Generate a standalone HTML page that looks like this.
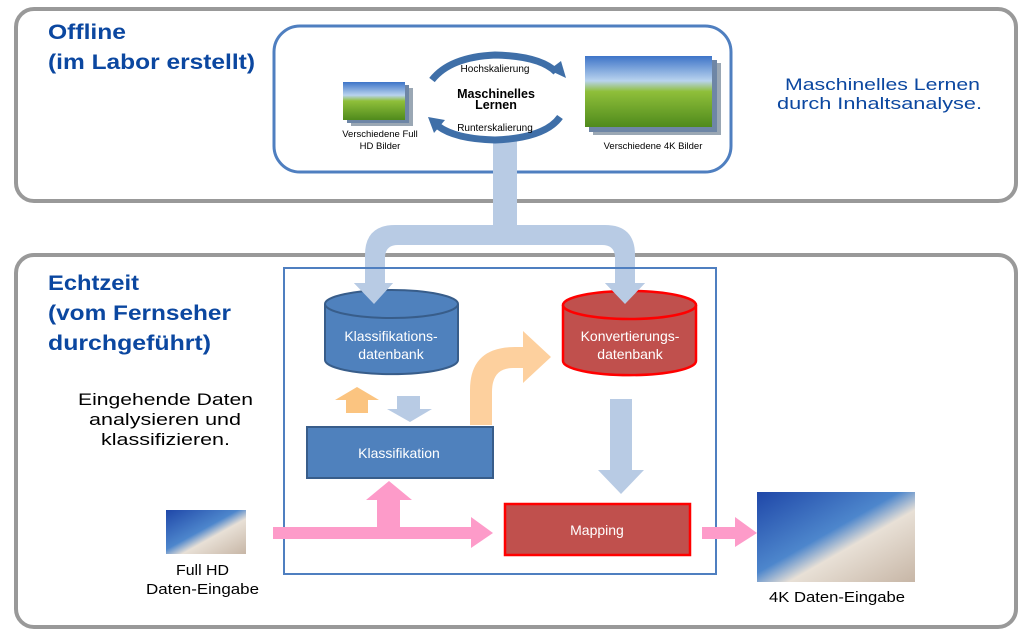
<!DOCTYPE html>
<html><head><meta charset="utf-8"><style>
html,body{margin:0;padding:0;background:#fff;width:1030px;height:635px;overflow:hidden}
svg{display:block}
text{font-family:"Liberation Sans","DejaVu Sans",sans-serif}
</style></head><body>
<svg width="1030" height="635" viewBox="0 0 1030 635" xmlns="http://www.w3.org/2000/svg">
<defs>
<linearGradient id="sky" x1="0" y1="0" x2="0" y2="1">
<stop offset="0" stop-color="#3d74c8"/><stop offset="0.35" stop-color="#b9d3ee"/><stop offset="0.5" stop-color="#8fbf3a"/><stop offset="1" stop-color="#4f8a1c"/></linearGradient>
<linearGradient id="beach" x1="0" y1="0" x2="1" y2="1">
<stop offset="0" stop-color="#1f47a8"/><stop offset="0.45" stop-color="#4d86cc"/><stop offset="0.6" stop-color="#e8e0d6"/><stop offset="1" stop-color="#c7b6a6"/></linearGradient>
</defs>
<rect x="16" y="9" width="1000" height="192" rx="18" fill="#fff" stroke="#999" stroke-width="4"/>
<rect x="16" y="255" width="1000" height="372" rx="18" fill="#fff" stroke="#999" stroke-width="4"/>
<rect x="274" y="26" width="457" height="146" rx="26" fill="#fff" stroke="#4f7fc0" stroke-width="3"/>
<path d="M493 140 H517 V225 H605 Q635 225 635 255 V283 H645 L625 304 L605 283 H615 V258 Q615 245 602 245 H398 Q385 245 385 258 V283 H393 L374 304 L354 283 H365 V255 Q365 225 395 225 H493 Z" fill="#b8cbe4"/>
<rect x="284" y="268" width="432" height="306" fill="none" stroke="#4f7fc0" stroke-width="2"/>
<path d="M325 304 V360 A66 14 0 0 0 458 360 V304" fill="#4f81bd" stroke="#385d8a" stroke-width="2"/>
<ellipse cx="391.5" cy="304" rx="66.5" ry="14" fill="#4f81bd" stroke="#385d8a" stroke-width="2"/>
<path d="M354 283 L374 304 L393 283 H385 V270 H365 V283 Z" fill="#b8cbe4"/>
<text x="391" y="341" font-size="14" fill="#fff" text-anchor="middle">Klassifikations-</text>
<text x="391" y="359" font-size="14" fill="#fff" text-anchor="middle">datenbank</text>
<path d="M563 305 V361 A66 14 0 0 0 696 361 V305" fill="#c0504d" stroke="#f00" stroke-width="2.5"/>
<ellipse cx="629.5" cy="305" rx="66.5" ry="14" fill="#c0504d" stroke="#f00" stroke-width="2.5"/>
<path d="M605 283 L625 304 L645 283 H635 V270 H615 V283 Z" fill="#b8cbe4"/>
<text x="630" y="341" font-size="14" fill="#fff" text-anchor="middle">Konvertierungs-</text>
<text x="630" y="359" font-size="14" fill="#fff" text-anchor="middle">datenbank</text>
<path d="M335 400 L357 387 L379 400 H368 V413 H346 V400 Z" fill="#fbc480"/>
<path d="M397 396 H420 V409 H432 L410 422 L387 409 H397 Z" fill="#b8cbe4"/>
<path d="M470 425 V390 Q470 347 515 347 H523 V331 L551 357 L523 383 V368 H513 Q492 368 492 392 V425 Z" fill="#fdd09e"/>
<rect x="307" y="427" width="186" height="51" fill="#4f81bd" stroke="#385d8a" stroke-width="2"/>
<text x="399" y="458" font-size="14" fill="#fff" text-anchor="middle">Klassifikation</text>
<path d="M610 399 H632 V470 H644 L621 494 L598 470 H610 Z" fill="#b8cbe4"/>
<rect x="505" y="504" width="185" height="51" fill="#c0504d" stroke="#f00" stroke-width="2.5"/>
<text x="597" y="535" font-size="14" fill="#fff" text-anchor="middle">Mapping</text>
<path d="M273 527 H377 V500 H366 L389 481 L412 500 H400 V527 H471 V517 L493 533 L471 548 V539 H273 Z" fill="#fd9bc9"/>
<path d="M702 527 H735 V517 L757 533 L735 547 V539 H702 Z" fill="#fd9bc9"/>
<rect x="351" y="88" width="62" height="38" fill="#9aa7b4"/>
<rect x="347" y="85" width="62" height="38" fill="#6e86a6"/>
<rect x="343" y="82" width="62" height="38" fill="url(#sky)"/>
<rect x="593" y="63" width="128" height="72" fill="#9aa7b4"/>
<rect x="589" y="60" width="128" height="72" fill="#6e86a6"/>
<rect x="585" y="56" width="127" height="71" fill="url(#sky)"/>
<text x="380" y="137" font-size="9.5" fill="#000" text-anchor="middle">Verschiedene Full</text>
<text x="380" y="149" font-size="9.5" fill="#000" text-anchor="middle">HD Bilder</text>
<text x="653" y="149" font-size="9.5" fill="#000" text-anchor="middle">Verschiedene 4K Bilder</text>
<path d="M432 80 Q450 57 495 55 Q540 56 556 72" fill="none" stroke="#3f6fa8" stroke-width="7"/>
<path d="M549 70 L566 78 L561 61 Z" fill="#3f6fa8"/>
<path d="M560 117 Q545 138 495 140 Q455 139 438 126" fill="none" stroke="#3f6fa8" stroke-width="7"/>
<path d="M445 120 L428 117 L434 133 Z" fill="#3f6fa8"/>
<text x="495" y="72" font-size="10" fill="#000" text-anchor="middle">Hochskalierung</text>
<text x="496" y="98" font-size="12.5" font-weight="bold" fill="#000" text-anchor="middle">Maschinelles</text>
<text x="496" y="109" font-size="12.5" font-weight="bold" fill="#000" text-anchor="middle">Lernen</text>
<text x="495" y="131" font-size="10" fill="#000" text-anchor="middle">Runterskalierung</text>
<rect x="166" y="510" width="80" height="44" fill="url(#beach)"/>
<rect x="757" y="492" width="158" height="90" fill="url(#beach)"/>
<text x="176" y="575" font-size="15" fill="#000" textLength="53" lengthAdjust="spacingAndGlyphs">Full HD</text>
<text x="146" y="594" font-size="15" fill="#000" textLength="113" lengthAdjust="spacingAndGlyphs">Daten-Eingabe</text>
<text x="769" y="602" font-size="15" fill="#000" textLength="136" lengthAdjust="spacingAndGlyphs">4K Daten-Eingabe</text>
<g fill="#0b47a0" font-weight="bold" font-size="21">
<text x="48" y="39" textLength="78" lengthAdjust="spacingAndGlyphs">Offline</text>
<text x="48" y="69" textLength="207" lengthAdjust="spacingAndGlyphs">(im Labor erstellt)</text>
<text x="48" y="290" textLength="91" lengthAdjust="spacingAndGlyphs">Echtzeit</text>
<text x="48" y="320" textLength="183" lengthAdjust="spacingAndGlyphs">(vom Fernseher</text>
<text x="48" y="350" textLength="163" lengthAdjust="spacingAndGlyphs">durchgeführt)</text>
</g>
<g fill="#0b47a0" font-size="17">
<text x="785" y="90" textLength="195" lengthAdjust="spacingAndGlyphs">Maschinelles Lernen</text>
<text x="777" y="109" textLength="205" lengthAdjust="spacingAndGlyphs">durch  Inhaltsanalyse.</text>
</g>
<g fill="#000" font-size="17">
<text x="78" y="405" textLength="175" lengthAdjust="spacingAndGlyphs">Eingehende Daten</text>
<text x="89" y="425" textLength="152" lengthAdjust="spacingAndGlyphs">analysieren und</text>
<text x="101" y="445" textLength="129" lengthAdjust="spacingAndGlyphs">klassifizieren.</text>
</g>
</svg>
</body></html>
